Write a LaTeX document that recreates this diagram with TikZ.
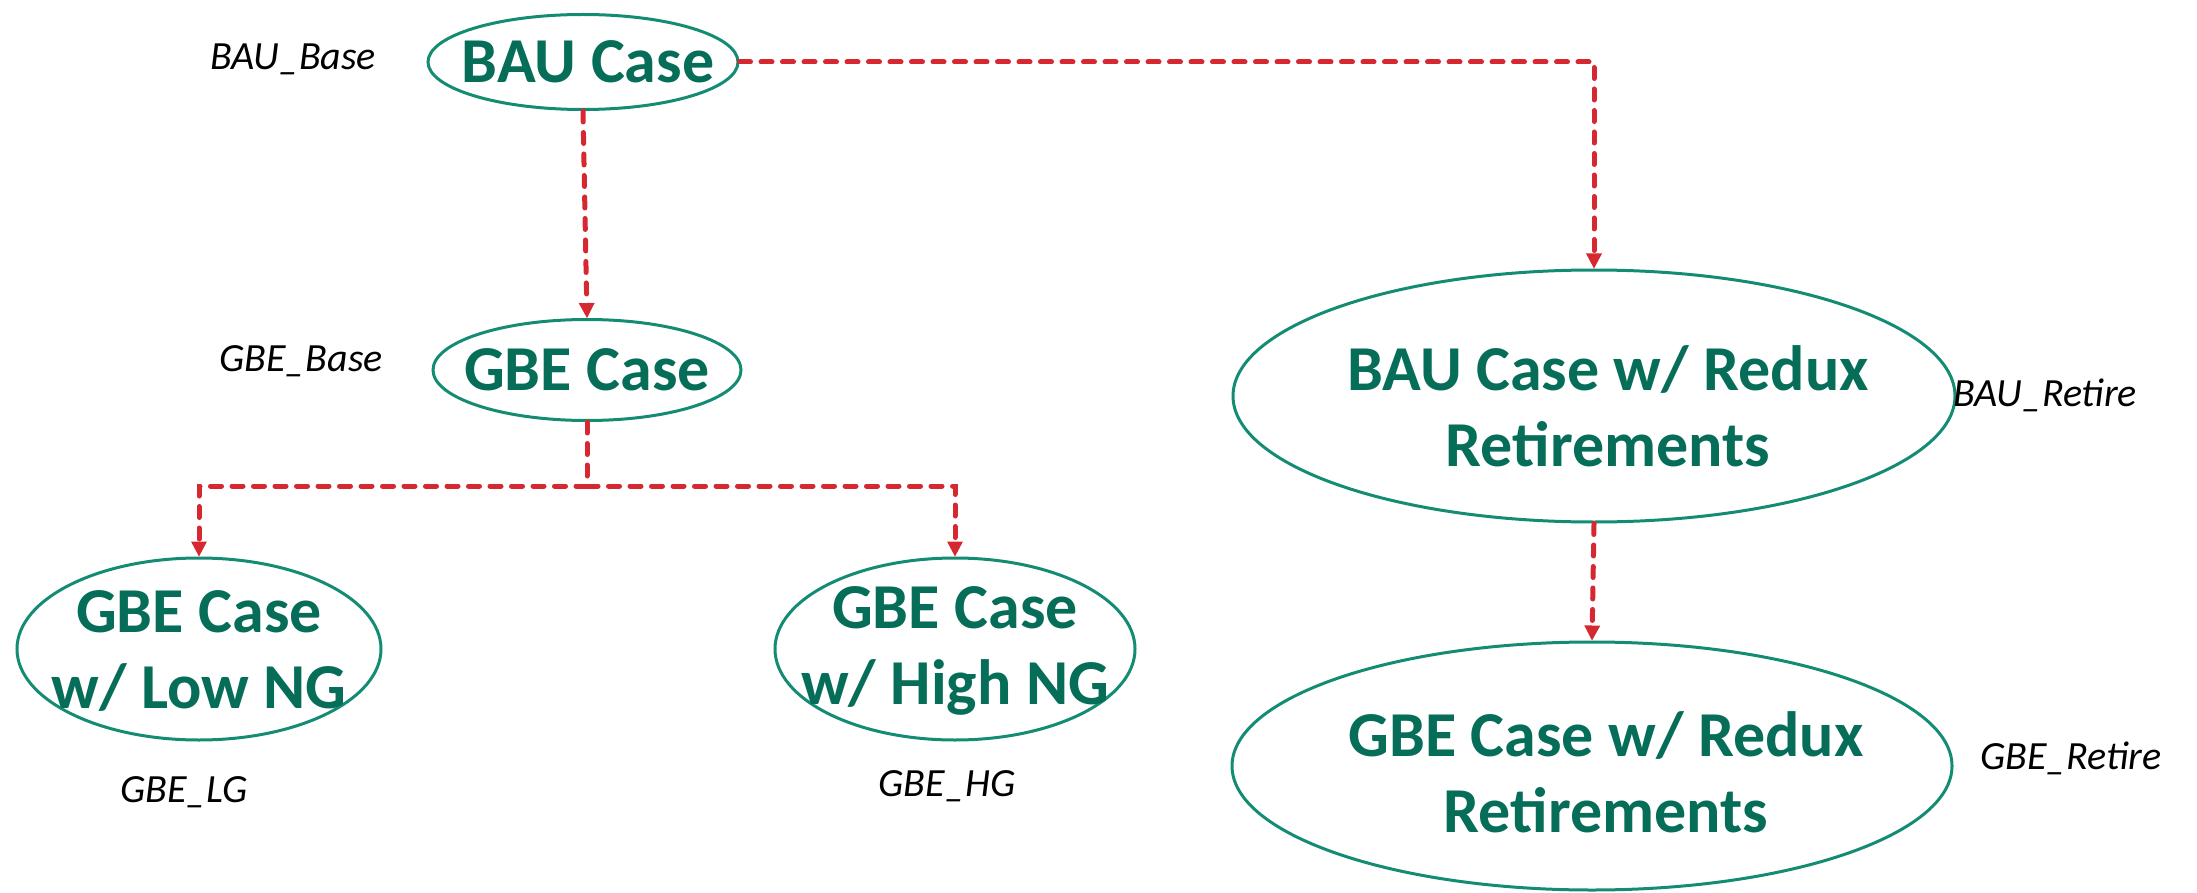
\documentclass[tikz,border=0pt]{standalone}
\usepackage{fontspec}
\setmainfont{Carlito}
\usetikzlibrary{shapes.geometric,arrows.meta}
\definecolor{casegreen}{RGB}{6,110,88}
\definecolor{rimteal}{RGB}{20,140,115}
\definecolor{linkred}{RGB}{214,40,48}
\tikzset{
  casenode/.style={ellipse, draw=rimteal, line width=3pt, inner sep=0pt},
  casetext/.style={text=casegreen, font=\fontsize{64}{76}\selectfont\bfseries,
    align=center, inner sep=0pt},
  tag/.style={font=\fontsize{40}{48}\selectfont\itshape, text=black, inner sep=0pt},
  link/.style={draw=linkred, line width=5pt, line cap=round,
    dash pattern=on 11pt off 10.5pt},
  tip/.style={-{Triangle[width=16pt,length=15pt,fill=linkred,line width=0pt]}},
}
\begin{document}
\begin{tikzpicture}[x=1pt,y=-1pt]
\useasboundingbox (0,0) rectangle (2197,893);

% scenario ellipses
\node[casenode, minimum width=310pt, minimum height=95pt] (bau) at (583,62) {};
\node[casenode, minimum width=308pt, minimum height=101pt] (gbe) at (587,370) {};
\node[casenode, minimum width=722pt, minimum height=252pt] (bauret) at (1594,396) {};
\node[casenode, minimum width=720pt, minimum height=248pt] (gberet) at (1592,766) {};
\node[casenode, minimum width=364pt, minimum height=182pt] (low) at (199,649) {};
\node[casenode, minimum width=360pt, minimum height=182pt] (high) at (955,649) {};

% scenario names
\node[casetext] (baut) at (588,62) {BAU Case};
\node[casetext] (gbet) at (587,370) {GBE Case};
\node[casetext] (bauprett) at (1608,406) {BAU Case w/ Redux\\Retirements};
\node[casetext] (gberett) at (1606,772) {GBE Case w/ Redux\\Retirements};
\node[casetext] (lowt) at (199,651) {GBE Case\\w/ Low NG};
\node[casetext] (hight) at (955,651) {GBE Case\\w/ High NG};

% scenario tags
\node[tag] (tbau) at (293,59) {BAU\_Base};
\node[tag] (tgbe) at (301,361) {GBE\_Base};
\node[tag] (tbauret) at (2045,395) {BAU\_Retire};
\node[tag] (tgberet) at (2071,758) {GBE\_Retire};
\node[tag] (tlow) at (184,792) {GBE\_LG};
\node[tag] (thigh) at (947,786) {GBE\_HG};

% branch points
\coordinate (split) at (gbe.south |- 0,486);
\coordinate (cright) at (bauret.north |- bau.east);

% links
\draw[link, tip] (bau.south) -- (gbe.north);
\draw[link, tip] (bau.east) -- (cright) -- (bauret.north);
\draw[link, tip] (bauret.south) -- (gberet.north);
\draw[link] (gbe.south) -- (split);
\draw[link, tip] (split) -| (low.north);
\draw[link, tip] (split) -| (high.north);
\end{tikzpicture}
\end{document}
